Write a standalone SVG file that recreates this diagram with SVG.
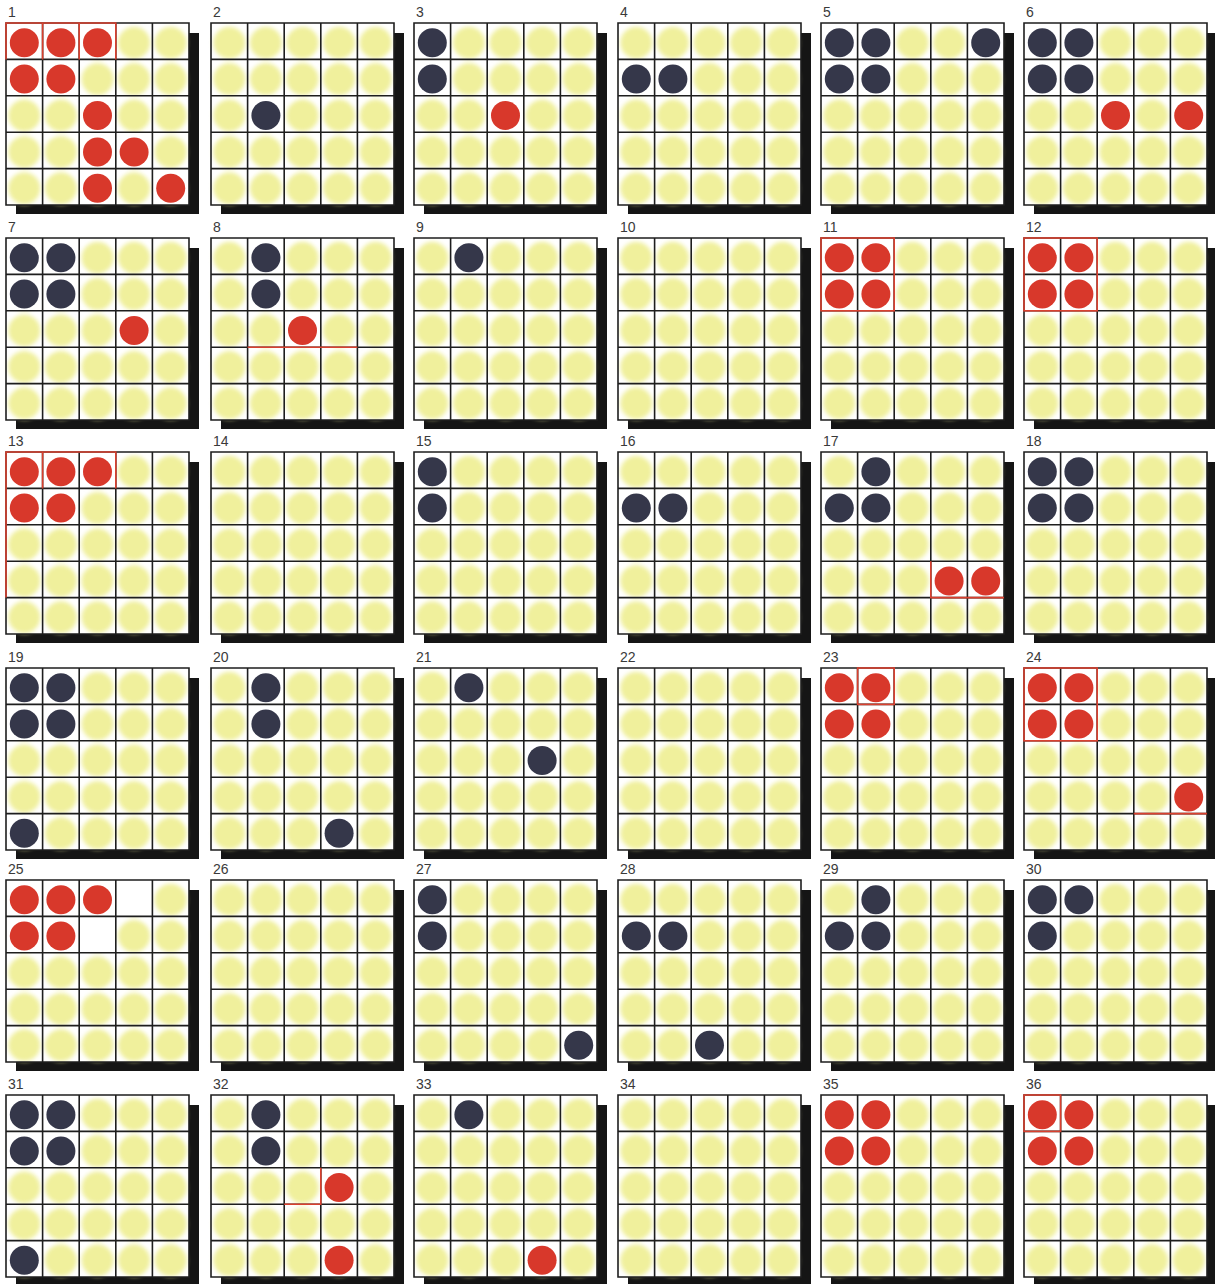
<svg xmlns="http://www.w3.org/2000/svg" xmlns:xlink="http://www.w3.org/1999/xlink" width="1215" height="1284" viewBox="0 0 1215 1284">
<style>
.sh{fill:#151515}
.gr{fill:none;stroke:#1e1e1e;stroke-width:1.6}
.ro{fill:none;stroke:#d9402f;stroke-width:1.6}
text{font-family:"Liberation Sans",Arial,sans-serif;font-size:14px;fill:#3a3a3a}
</style>
<defs>
<filter id="bl" x="-20%" y="-20%" width="140%" height="140%"><feGaussianBlur stdDeviation="2.2"/></filter>
<g id="yb">
<rect width="183" height="182" fill="#fff"/>
<g filter="url(#bl)" fill="#f0f09c">
<circle cx="18.3" cy="19.7" r="16"/><circle cx="54.9" cy="19.7" r="16"/><circle cx="91.5" cy="19.7" r="16"/><circle cx="128.1" cy="19.7" r="16"/><circle cx="164.7" cy="19.7" r="16"/>
<circle cx="18.3" cy="56.1" r="16"/><circle cx="54.9" cy="56.1" r="16"/><circle cx="91.5" cy="56.1" r="16"/><circle cx="128.1" cy="56.1" r="16"/><circle cx="164.7" cy="56.1" r="16"/>
<circle cx="18.3" cy="92.5" r="16"/><circle cx="54.9" cy="92.5" r="16"/><circle cx="91.5" cy="92.5" r="16"/><circle cx="128.1" cy="92.5" r="16"/><circle cx="164.7" cy="92.5" r="16"/>
<circle cx="18.3" cy="128.9" r="16"/><circle cx="54.9" cy="128.9" r="16"/><circle cx="91.5" cy="128.9" r="16"/><circle cx="128.1" cy="128.9" r="16"/><circle cx="164.7" cy="128.9" r="16"/>
<circle cx="18.3" cy="165.3" r="16"/><circle cx="54.9" cy="165.3" r="16"/><circle cx="91.5" cy="165.3" r="16"/><circle cx="128.1" cy="165.3" r="16"/><circle cx="164.7" cy="165.3" r="16"/>
</g>
</g>
<rect id="wh" width="36.6" height="36.4" fill="#fff"/>
<g id="dk"><rect width="36.6" height="36.4" fill="#fff"/><circle cx="18.3" cy="19.7" r="14.5" fill="#35374a"/></g>
<g id="rd"><rect width="36.6" height="36.4" fill="#fff"/><circle cx="18.3" cy="19.7" r="14.5" fill="#d8382b"/></g>
<path id="grid" class="gr" d="M0,0H183V182H0Z M36.6,0V182 M73.2,0V182 M109.8,0V182 M146.4,0V182 M0,36.4H183 M0,72.8H183 M0,109.2H183 M0,145.6H183"/>
<rect id="shadow" class="sh" x="10" y="10" width="183" height="181"/>
</defs>
<g id="connectors"/>

<g id="p1" transform="translate(6,23)"><use href="#shadow"/><use href="#yb"/>
<use href="#rd" x="0" y="0"/><use href="#rd" x="36.6" y="0"/><use href="#rd" x="73.2" y="0"/><use href="#rd" x="0" y="36.4"/><use href="#rd" x="36.6" y="36.4"/><use href="#rd" x="73.2" y="72.8"/><use href="#rd" x="73.2" y="109.2"/><use href="#rd" x="109.8" y="109.2"/><use href="#rd" x="73.2" y="145.6"/><use href="#rd" x="146.4" y="145.6"/>
<use href="#grid"/><path class="ro" d="M0,36.4V0H109.8V36.4 M36.6,0V36.4 M73.2,0V36.4"/><text x="2" y="-6">1</text></g>

<g id="p2" transform="translate(211,23)"><use href="#shadow"/><use href="#yb"/>
<use href="#dk" x="36.6" y="72.8"/>
<use href="#grid"/><text x="2" y="-6">2</text></g>

<g id="p3" transform="translate(414,23)"><use href="#shadow"/><use href="#yb"/>
<use href="#dk" x="0" y="0"/><use href="#dk" x="0" y="36.4"/><use href="#rd" x="73.2" y="72.8"/>
<use href="#grid"/><text x="2" y="-6">3</text></g>

<g id="p4" transform="translate(618,23)"><use href="#shadow"/><use href="#yb"/>
<use href="#dk" x="0" y="36.4"/><use href="#dk" x="36.6" y="36.4"/>
<use href="#grid"/><text x="2" y="-6">4</text></g>

<g id="p5" transform="translate(821,23)"><use href="#shadow"/><use href="#yb"/>
<use href="#dk" x="0" y="0"/><use href="#dk" x="36.6" y="0"/><use href="#dk" x="0" y="36.4"/><use href="#dk" x="36.6" y="36.4"/><use href="#dk" x="146.4" y="0"/>
<use href="#grid"/><text x="2" y="-6">5</text></g>

<g id="p6" transform="translate(1024,23)"><use href="#shadow"/><use href="#yb"/>
<use href="#dk" x="0" y="0"/><use href="#dk" x="36.6" y="0"/><use href="#dk" x="0" y="36.4"/><use href="#dk" x="36.6" y="36.4"/><use href="#rd" x="73.2" y="72.8"/><use href="#rd" x="146.4" y="72.8"/>
<use href="#grid"/><text x="2" y="-6">6</text></g>

<g id="p7" transform="translate(6,238)"><use href="#shadow"/><use href="#yb"/>
<use href="#dk" x="0" y="0"/><use href="#dk" x="36.6" y="0"/><use href="#dk" x="0" y="36.4"/><use href="#dk" x="36.6" y="36.4"/><use href="#rd" x="109.8" y="72.8"/>
<use href="#grid"/><text x="2" y="-6">7</text></g>

<g id="p8" transform="translate(211,238)"><use href="#shadow"/><use href="#yb"/>
<use href="#dk" x="36.6" y="0"/><use href="#dk" x="36.6" y="36.4"/><use href="#rd" x="73.2" y="72.8"/>
<use href="#grid"/><path class="ro" d="M36.6,109.2H146.4"/><text x="2" y="-6">8</text></g>

<g id="p9" transform="translate(414,238)"><use href="#shadow"/><use href="#yb"/>
<use href="#dk" x="36.6" y="0"/>
<use href="#grid"/><text x="2" y="-6">9</text></g>

<g id="p10" transform="translate(618,238)"><use href="#shadow"/><use href="#yb"/>
<use href="#grid"/><text x="2" y="-6">10</text></g>

<g id="p11" transform="translate(821,238)"><use href="#shadow"/><use href="#yb"/>
<use href="#rd" x="0" y="0"/><use href="#rd" x="36.6" y="0"/><use href="#rd" x="0" y="36.4"/><use href="#rd" x="36.6" y="36.4"/>
<use href="#grid"/><rect class="ro" width="73.2" height="72.8"/><text x="2" y="-6">11</text></g>

<g id="p12" transform="translate(1024,238)"><use href="#shadow"/><use href="#yb"/>
<use href="#rd" x="0" y="0"/><use href="#rd" x="36.6" y="0"/><use href="#rd" x="0" y="36.4"/><use href="#rd" x="36.6" y="36.4"/>
<use href="#grid"/><rect class="ro" width="73.2" height="72.8"/><text x="2" y="-6">12</text></g>

<g id="p13" transform="translate(6,452)"><use href="#shadow"/><use href="#yb"/>
<use href="#rd" x="0" y="0"/><use href="#rd" x="36.6" y="0"/><use href="#rd" x="73.2" y="0"/><use href="#rd" x="0" y="36.4"/><use href="#rd" x="36.6" y="36.4"/>
<use href="#grid"/><path class="ro" d="M0,145.6V0H109.8V36.4 M36.6,0V36.4"/><text x="2" y="-6">13</text></g>

<g id="p14" transform="translate(211,452)"><use href="#shadow"/><use href="#yb"/>
<use href="#grid"/><text x="2" y="-6">14</text></g>

<g id="p15" transform="translate(414,452)"><use href="#shadow"/><use href="#yb"/>
<use href="#dk" x="0" y="0"/><use href="#dk" x="0" y="36.4"/>
<use href="#grid"/><text x="2" y="-6">15</text></g>

<g id="p16" transform="translate(618,452)"><use href="#shadow"/><use href="#yb"/>
<use href="#dk" x="0" y="36.4"/><use href="#dk" x="36.6" y="36.4"/>
<use href="#grid"/><text x="2" y="-6">16</text></g>

<g id="p17" transform="translate(821,452)"><use href="#shadow"/><use href="#yb"/>
<use href="#dk" x="36.6" y="0"/><use href="#dk" x="0" y="36.4"/><use href="#dk" x="36.6" y="36.4"/><use href="#rd" x="109.8" y="109.2"/><use href="#rd" x="146.4" y="109.2"/>
<use href="#grid"/><path class="ro" d="M109.8,109.2V145.6H183"/><text x="2" y="-6">17</text></g>

<g id="p18" transform="translate(1024,452)"><use href="#shadow"/><use href="#yb"/>
<use href="#dk" x="0" y="0"/><use href="#dk" x="36.6" y="0"/><use href="#dk" x="0" y="36.4"/><use href="#dk" x="36.6" y="36.4"/>
<use href="#grid"/><text x="2" y="-6">18</text></g>

<g id="p19" transform="translate(6,668)"><use href="#shadow"/><use href="#yb"/>
<use href="#dk" x="0" y="0"/><use href="#dk" x="36.6" y="0"/><use href="#dk" x="0" y="36.4"/><use href="#dk" x="36.6" y="36.4"/><use href="#dk" x="0" y="145.6"/>
<use href="#grid"/><text x="2" y="-6">19</text></g>

<g id="p20" transform="translate(211,668)"><use href="#shadow"/><use href="#yb"/>
<use href="#dk" x="36.6" y="0"/><use href="#dk" x="36.6" y="36.4"/><use href="#dk" x="109.8" y="145.6"/>
<use href="#grid"/><text x="2" y="-6">20</text></g>

<g id="p21" transform="translate(414,668)"><use href="#shadow"/><use href="#yb"/>
<use href="#dk" x="36.6" y="0"/><use href="#dk" x="109.8" y="72.8"/>
<use href="#grid"/><text x="2" y="-6">21</text></g>

<g id="p22" transform="translate(618,668)"><use href="#shadow"/><use href="#yb"/>
<use href="#grid"/><text x="2" y="-6">22</text></g>

<g id="p23" transform="translate(821,668)"><use href="#shadow"/><use href="#yb"/>
<use href="#rd" x="0" y="0"/><use href="#rd" x="36.6" y="0"/><use href="#rd" x="0" y="36.4"/><use href="#rd" x="36.6" y="36.4"/>
<use href="#grid"/><rect class="ro" x="36.6" width="36.6" height="36.4"/><text x="2" y="-6">23</text></g>

<g id="p24" transform="translate(1024,668)"><use href="#shadow"/><use href="#yb"/>
<use href="#rd" x="0" y="0"/><use href="#rd" x="36.6" y="0"/><use href="#rd" x="0" y="36.4"/><use href="#rd" x="36.6" y="36.4"/><use href="#rd" x="146.4" y="109.2"/>
<use href="#grid"/><rect class="ro" width="73.2" height="72.8"/><path class="ro" d="M109.8,145.6H183"/><text x="2" y="-6">24</text></g>

<g id="p25" transform="translate(6,880)"><use href="#shadow"/><use href="#yb"/>
<use href="#rd" x="0" y="0"/><use href="#rd" x="36.6" y="0"/><use href="#rd" x="73.2" y="0"/><use href="#rd" x="0" y="36.4"/><use href="#rd" x="36.6" y="36.4"/><use href="#wh" x="109.8" y="0"/><use href="#wh" x="73.2" y="36.4"/>
<use href="#grid"/><text x="2" y="-6">25</text></g>

<g id="p26" transform="translate(211,880)"><use href="#shadow"/><use href="#yb"/>
<use href="#grid"/><text x="2" y="-6">26</text></g>

<g id="p27" transform="translate(414,880)"><use href="#shadow"/><use href="#yb"/>
<use href="#dk" x="0" y="0"/><use href="#dk" x="0" y="36.4"/><use href="#dk" x="146.4" y="145.6"/>
<use href="#grid"/><text x="2" y="-6">27</text></g>

<g id="p28" transform="translate(618,880)"><use href="#shadow"/><use href="#yb"/>
<use href="#dk" x="0" y="36.4"/><use href="#dk" x="36.6" y="36.4"/><use href="#dk" x="73.2" y="145.6"/>
<use href="#grid"/><text x="2" y="-6">28</text></g>

<g id="p29" transform="translate(821,880)"><use href="#shadow"/><use href="#yb"/>
<use href="#dk" x="36.6" y="0"/><use href="#dk" x="0" y="36.4"/><use href="#dk" x="36.6" y="36.4"/>
<use href="#grid"/><text x="2" y="-6">29</text></g>

<g id="p30" transform="translate(1024,880)"><use href="#shadow"/><use href="#yb"/>
<use href="#dk" x="0" y="0"/><use href="#dk" x="36.6" y="0"/><use href="#dk" x="0" y="36.4"/>
<use href="#grid"/><text x="2" y="-6">30</text></g>

<g id="p31" transform="translate(6,1095)"><use href="#shadow"/><use href="#yb"/>
<use href="#dk" x="0" y="0"/><use href="#dk" x="36.6" y="0"/><use href="#dk" x="0" y="36.4"/><use href="#dk" x="36.6" y="36.4"/><use href="#dk" x="0" y="145.6"/>
<use href="#grid"/><text x="2" y="-6">31</text></g>

<g id="p32" transform="translate(211,1095)"><use href="#shadow"/><use href="#yb"/>
<use href="#dk" x="36.6" y="0"/><use href="#dk" x="36.6" y="36.4"/><use href="#rd" x="109.8" y="72.8"/><use href="#rd" x="109.8" y="145.6"/>
<use href="#grid"/><path class="ro" d="M109.8,72.8V109.2H73.2"/><text x="2" y="-6">32</text></g>

<g id="p33" transform="translate(414,1095)"><use href="#shadow"/><use href="#yb"/>
<use href="#dk" x="36.6" y="0"/><use href="#rd" x="109.8" y="145.6"/>
<use href="#grid"/><text x="2" y="-6">33</text></g>

<g id="p34" transform="translate(618,1095)"><use href="#shadow"/><use href="#yb"/>
<use href="#grid"/><text x="2" y="-6">34</text></g>

<g id="p35" transform="translate(821,1095)"><use href="#shadow"/><use href="#yb"/>
<use href="#rd" x="0" y="0"/><use href="#rd" x="36.6" y="0"/><use href="#rd" x="0" y="36.4"/><use href="#rd" x="36.6" y="36.4"/>
<use href="#grid"/><text x="2" y="-6">35</text></g>

<g id="p36" transform="translate(1024,1095)"><use href="#shadow"/><use href="#yb"/>
<use href="#rd" x="0" y="0"/><use href="#rd" x="36.6" y="0"/><use href="#rd" x="0" y="36.4"/><use href="#rd" x="36.6" y="36.4"/>
<use href="#grid"/><rect class="ro" width="36.6" height="36.4"/><text x="2" y="-6">36</text></g>
</svg>
